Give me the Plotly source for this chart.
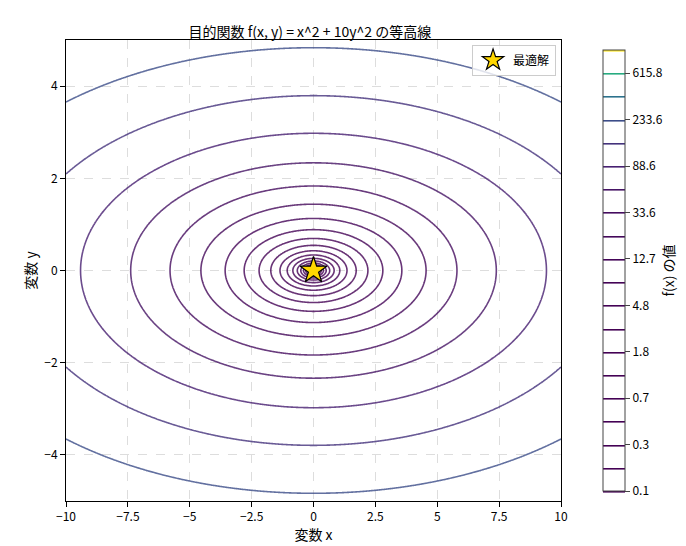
import numpy as np
import plotly.graph_objects as go

# contour levels (log-spaced, as in the reference colorbar)
log_start, log_end, n_levels = -1.0, 3.0, 20
tick_labels = ["0.1", "0.3", "0.7", "1.8", "4.8", "12.7", "33.6", "88.6", "233.6", "615.8"]
tick_values = [0.1, 0.264, 0.695, 1.833, 4.833, 12.74, 33.6, 88.59, 233.6, 615.8]
opt_x = [0.0]
opt_y = [0.0]

x = np.linspace(-10, 10, 500)
y = np.linspace(-5, 5, 400)
X, Y = np.meshgrid(x, y)
Z = X**2 + 10 * Y**2
LZ = np.log10(np.maximum(Z, 1e-8))

# matplotlib colours contour lines by linear level value -> map to viridis
vir = [(0.0, (68, 1, 84)), (0.1, (72, 36, 117)), (0.2, (65, 68, 135)), (0.3, (53, 95, 141)),
       (0.4, (42, 120, 142)), (0.5, (33, 145, 140)), (0.6, (34, 168, 132)), (0.7, (68, 191, 112)),
       (0.8, (122, 209, 81)), (0.9, (189, 223, 38)), (1.0, (253, 231, 37))]

def viridis(t):
    for (a, ca), (b, cb) in zip(vir[:-1], vir[1:]):
        if t <= b:
            f = (t - a) / (b - a)
            c = [int(ca[i] + f * (cb[i] - ca[i])) for i in range(3)]
            return f"rgb({c[0]},{c[1]},{c[2]})"
    return "rgb(253,231,37)"

levels = 10 ** np.linspace(log_start, log_end, n_levels)
cscale = []
for i, lv in enumerate(levels):
    cscale.append([i / (n_levels - 1), viridis((lv - levels[0]) / (levels[-1] - levels[0]))])

fig = go.Figure()
fig.add_trace(go.Contour(
    x=x, y=y, z=LZ, showlegend=False,
    contours=dict(start=log_start, end=log_end, size=(log_end - log_start) / (n_levels - 1), coloring="lines"),
    colorscale=cscale, zmin=log_start, zmax=log_end, line=dict(width=1.6), opacity=0.8,
    colorbar=dict(tickvals=list(np.log10(tick_values)), ticktext=tick_labels,
                  title=dict(text="f(x) の値", side="right"), len=1.0, y=0.5, thickness=22,
                  x=1.065, outlinewidth=1, ticks="outside"),
    hoverinfo="skip"))
fig.add_trace(go.Scatter(x=opt_x, y=opt_y, mode="markers", name="最適解", showlegend=True,
                         marker=dict(symbol="star", size=20, color="gold", line=dict(color="black", width=1.2))))

axis = dict(showgrid=True, gridcolor="#dddddd", griddash="dash", zeroline=False, showline=True,
            linecolor="black", mirror=True, ticks="outside", color="black", automargin=False)
fig.update_layout(
    width=686, height=546, plot_bgcolor="white", paper_bgcolor="white", showlegend=True,
    font=dict(family="Noto Sans CJK JP", size=12, color="black"),
    title=dict(text="目的関数 f(x, y) = x^2 + 10y^2 の等高線", x=0.44, xanchor="center", y=0.965, font=dict(size=14),
               automargin=False),
    margin=dict(l=58, r=133, t=32, b=53, autoexpand=False),
    xaxis=dict(axis, range=[-10, 10], title=dict(text="変数 x", standoff=4), dtick=2.5),
    yaxis=dict(axis, range=[-5, 5], title=dict(text="変数 y", standoff=4), dtick=2),
    legend=dict(x=0.99, y=0.99, xanchor="right", yanchor="top", bordercolor="#cccccc", borderwidth=1,
                bgcolor="rgba(255,255,255,0.8)"),
)
fig.write_html("out.html")
